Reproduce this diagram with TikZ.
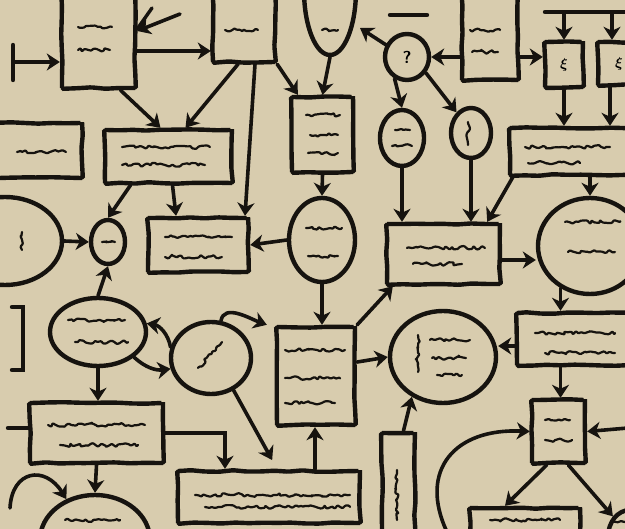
\documentclass[tikz,border=0pt]{standalone}
\usepackage{amsmath}
\usetikzlibrary{arrows.meta,shapes.geometric,decorations.pathmorphing}
\definecolor{paper}{RGB}{216,204,174}
\definecolor{ink}{RGB}{22,19,15}
\tikzset{
  >={Stealth[length=13pt,width=17pt,inset=4pt]},
  box/.style={draw=ink, line width=4.4pt, inner sep=0pt, decorate,
    decoration={random steps,segment length=14pt,amplitude=0.8pt}, rounded corners=1.5pt},
  oval/.style={draw=ink, line width=4.4pt, inner sep=0pt, ellipse},
  con/.style={draw=ink, line width=3.6pt, ->, line cap=round},
  rim/.style={draw=ink, line width=4.4pt, line cap=round},
  scr/.style={draw=ink, line width=2.2pt, line cap=round, line join=round, rounded corners=0.8pt,
    decorate, decoration={random steps,segment length=2.8pt,amplitude=2pt}},
}
\begin{document}
\begin{tikzpicture}[x=1pt, y=-1pt]
  \pgfmathsetseed{3}
  \useasboundingbox (0,0) rectangle (625,529);
  \fill[paper] (0,0) rectangle (625,529);
  \clip (0,0) rectangle (625,529);

  % boxes and ovals, left half
  \node[box, minimum width=73pt, minimum height=98pt] (boxA) at (98.5,39) {};
  \node[box, minimum width=62pt, minimum height=72pt] (boxB) at (244,26) {};
  \node[box, minimum width=127pt, minimum height=53pt] (boxC) at (168.5,156.5) {};
  \node[box, minimum width=102pt, minimum height=55pt] (boxF) at (31,150.5) {};
  \node[oval, minimum width=114pt, minimum height=88pt] (ovalH) at (5,241) {};
  \node[oval, minimum width=34pt, minimum height=44pt] (ovalG) at (108,242) {};
  \node[box, minimum width=100pt, minimum height=54pt] (boxD) at (198,245) {};
  \node[oval, minimum width=96pt, minimum height=68pt] (ovalT) at (98,332) {};
  \node[oval, minimum width=80pt, minimum height=72pt] (ovalU) at (211,358) {};
  \node[box, minimum width=133pt, minimum height=60pt] (boxAC) at (96.5,433) {};
  \node[oval, minimum width=110pt, minimum height=90pt] (ovalAD) at (95,540) {};
  \node[box, minimum width=182pt, minimum height=52pt] (boxW) at (269,497) {};

  % middle column
  \node[oval, minimum width=52pt, minimum height=130pt] (ovalJ) at (330,-10) {};
  \node[box, minimum width=61pt, minimum height=75pt] (boxE) at (322.5,134.5) {};
  \node[oval, minimum width=66pt, minimum height=84pt] (ovalI) at (322,240) {};
  \node[box, minimum width=78pt, minimum height=98pt] (boxV) at (316,376) {};
  \node[box, minimum width=33pt, minimum height=112pt] (boxAB) at (398.5,489) {};

  % right half
  \node[oval, minimum width=44pt, minimum height=46pt, font=\sffamily\bfseries\LARGE] (ovalK) at (407,57) {?};
  \node[oval, minimum width=44pt, minimum height=56pt] (ovalM) at (402,138) {};
  \node[oval, minimum width=40pt, minimum height=50pt] (ovalN) at (471,133) {};
  \node[box, minimum width=56pt, minimum height=90pt] (boxL) at (490,35) {};
  \node[box, minimum width=38pt, minimum height=45pt, font=\Large] (boxP) at (564,64.5) {$\boldsymbol{\xi}$};
  \node[box, minimum width=42pt, minimum height=43pt, font=\Large] (boxQ) at (619,63.5) {$\boldsymbol{\xi}$};
  \node[box, minimum width=130pt, minimum height=47pt] (boxR) at (575,151.5) {};
  \node[box, minimum width=113pt, minimum height=60pt] (boxO) at (443.5,254) {};
  \node[oval, minimum width=104pt, minimum height=96pt] (ovalS) at (590,246) {};
  \node[oval, minimum width=106pt, minimum height=92pt] (ovalX) at (443,357) {};
  \node[box, minimum width=123pt, minimum height=52pt] (boxY) at (578.5,339) {};
  \node[box, minimum width=53pt, minimum height=63pt] (boxZ) at (558.5,431.5) {};
  \node[box, minimum width=110pt, minimum height=42pt] (boxAA) at (525,529) {};
  \node[oval, minimum width=44pt, minimum height=54pt] (ovalBR) at (630,537) {};

  % loose ends
  \coordinate (bar) at (13,62);
  \coordinate (burst) at (180,14);
  \coordinate (burst2) at (152,8);
  \coordinate (kout) at (360,28);
  \coordinate (tl) at (545,12);
  \coordinate (tr) at (630,12);
  \coordinate (zr) at (628,428);
  \coordinate (cz) at (447,532);
  \coordinate (stub) at (8,428);
  \coordinate (bl) at (10,508);
  \draw[rim] (13,45) -- (13,80);
  \draw[rim] (12,307) -- (23,307) -- (23,370) -- (12,370);
  \draw[rim] (390,15) -- (427,15);
  \draw[rim] (tl) -- (tr);
  \draw[rim] (stub) -- (stub -| boxAC.west);

  % connectors
  \draw[con] (bar) -- (bar -| boxA.west);
  \draw[con] (burst) -- ([yshift=8pt]boxA.east);
  \draw[ink, line width=3.4pt, line cap=round] (burst2) -- ([yshift=10pt]boxA.east);
  \coordinate (ab) at ([yshift=-12pt]boxA.east);
  \draw[con] (ab) -- (ab -| boxB.west);
  \draw[con] ([xshift=22pt]boxA.south) -- ([xshift=-8pt]boxC.north);
  \draw[con] ([xshift=-6pt]boxB.south) -- ([xshift=17pt]boxC.north);
  \draw[con] ([xshift=11pt]boxB.south) -- ([xshift=47pt]boxD.north);
  \draw[con] (boxB.south east) -- ([xshift=8pt]boxE.north west);
  \draw[con] ([xshift=-38pt]boxC.south) -- (ovalG.north);
  \draw[con] ([xshift=4pt]boxC.south) -- ([xshift=-22pt]boxD.north);
  \draw[con] (ovalH.east) -- (ovalG.west);
  \draw[con] (ovalI.west) -- (boxD.east);
  \draw[con] (ovalJ.south) -- (boxE.north);
  \draw[con] (boxE.south) -- (ovalI.north);
  \draw[con] (ovalK.150) -- (kout);
  \coordinate (lk) at ([yshift=-22pt]boxL.west);
  \draw[con] (lk) -- (ovalK.east);
  \draw[con] (ovalK.240) -- (ovalM.north);
  \draw[con] (ovalK.-40) -- (ovalN.125);
  \draw[con] (ovalM.south) -- (ovalM.south |- boxO.north);
  \draw[con] (ovalN.south) -- (ovalN.south |- boxO.north);
  \coordinate (lp) at ([yshift=-22pt]boxL.east);
  \draw[con] (lp) -- (lp -| boxP.west);
  \draw[con] (tl -| boxP.north) -- (boxP.north);
  \coordinate (qn) at ([xshift=-7pt]boxQ.north);
  \draw[con] (tl -| qn) -- (qn);
  \draw[con] (boxP.south) -- (boxP.south |- boxR.north);
  \coordinate (qs) at ([xshift=-9pt]boxQ.south);
  \draw[con] (qs) -- (qs |- boxR.north);
  \draw[con] ([xshift=5pt]boxR.south west) -- ([xshift=-15pt]boxO.north east);
  \draw[con] ([xshift=15pt]boxR.south) -- (ovalS.north);
  \coordinate (os) at ([yshift=-6pt]boxO.east);
  \draw[con] (os) -- (os -| ovalS.west);
  \draw[con] (ovalS.-125) -- (ovalS.-125 |- boxY.north);
  \coordinate (yx) at ([yshift=-7pt]boxY.west);
  \draw[con] (yx) -- (yx -| ovalX.east);
  \coordinate (yz) at ([xshift=-18pt]boxY.south);
  \draw[con] (yz) -- (yz |- boxZ.north);
  \draw[con] (zr) -- (boxZ.east);
  \draw[con] (cz) .. controls (418,470) and (455,428) .. (boxZ.west);
  \draw[con] ([xshift=-12pt]boxZ.south) -- ([xshift=-20pt]boxAA.north);
  \draw[con] ([xshift=10pt]boxZ.south) -- (ovalBR.north west);
  \draw[con] ([xshift=5pt]boxAB.north) -- (ovalX.-128);
  \coordinate (vx) at ([yshift=14pt]boxV.east);
  \draw[con] (vx) -- (ovalX.west);
  \draw[con] (boxV.north east) -- ([xshift=8pt]boxO.south west);
  \draw[con] (ovalI.south) -- (ovalI.south |- boxV.north);
  \coordinate (wv) at ([xshift=46pt]boxW.north);
  \draw[con] (wv) -- (wv |- boxV.south);
  \draw[con, shorten >=10pt] (ovalU.-55) -- ([xshift=8pt]boxW.north);
  \draw[con] (ovalU.75) to[out=80,in=160] ([xshift=-8pt]boxV.north west);
  \draw[con] (ovalU.165) to[bend right=35] (ovalT.10);
  \draw[con] (ovalT.-35) to[bend right=25] (ovalU.195);
  \draw[con] (ovalT.north) -- (ovalG.south);
  \draw[con] (ovalT.south) -- (ovalT.south |- boxAC.north);
  \draw[con] (boxAC.east) -| ([xshift=-44pt]boxW.north);
  \draw[con] (boxAC.south) -- (ovalAD.north);
  \draw[con] (bl) .. controls (12,470) and (45,465) .. (ovalAD.125);

  % scribbled writing
  \foreach \xa/\xb/\yy in {78/112/27, 78/110/50, 225/258/30, 122/210/147, 122/205/165,
      17/66/152, 165/232/237, 165/222/257, 306/340/115, 310/338/135, 308/338/153,
      306/342/228, 308/338/256, 322/338/30, 470/500/30, 472/498/52, 525/610/147,
      528/580/163, 407/485/248, 413/462/264, 565/620/222, 568/615/252, 68/125/320,
      75/128/342, 285/345/350, 285/340/378, 285/335/403, 430/470/340, 432/466/358,
      437/462/375, 535/615/333, 545/615/353, 545/570/420, 545/572/440, 490/560/520,
      195/350/495, 205/350/507, 48/145/425, 60/138/445, 65/120/520, 395/410/130,
      392/412/146, 102/115/242, 612/625/522}
    \draw[scr] (\xa,\yy) -- (\xb,\yy);
  \foreach \xx/\ya/\yb in {418/335/372, 397/470/520, 468/122/145, 22/232/250}
    \draw[scr] (\xx,\ya) -- (\xx,\yb);
  \draw[scr] (198,368) -- (222,342);
\end{tikzpicture}
\end{document}
